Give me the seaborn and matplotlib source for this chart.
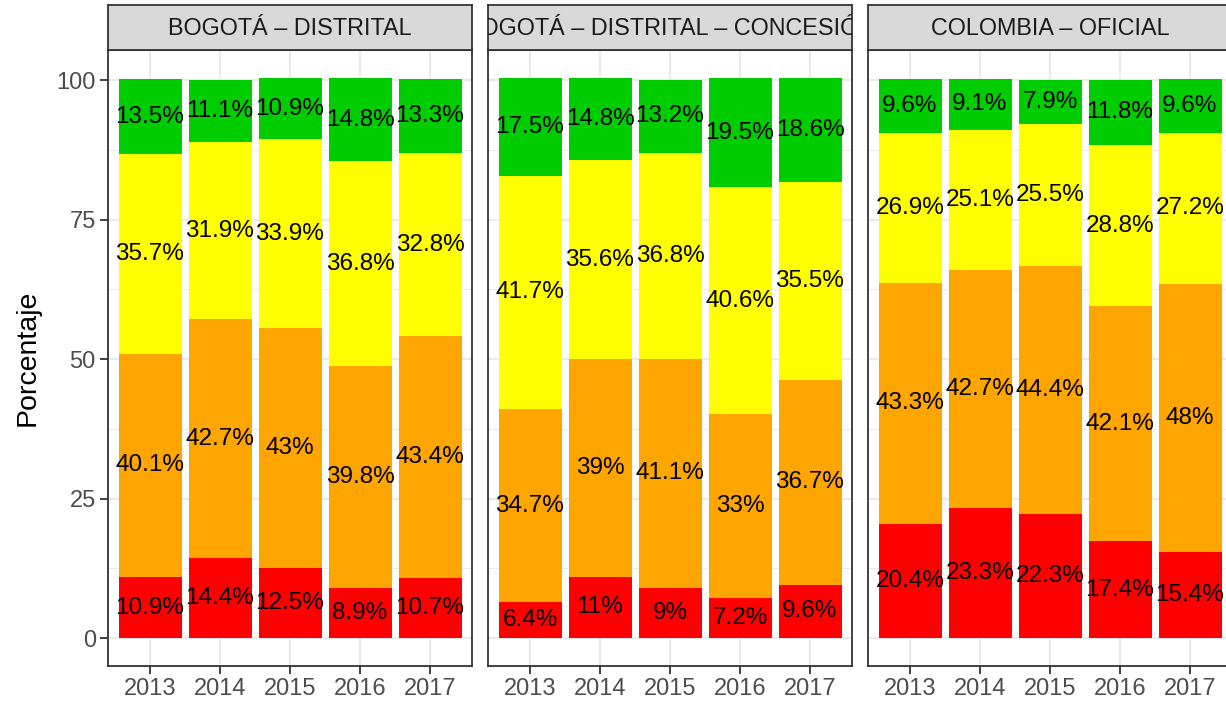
import numpy as np
import pandas as pd
import matplotlib
matplotlib.use("Agg")
import matplotlib.pyplot as plt
import seaborn as sns

# data (percent, from the bottom up)
years = ["2013", "2014", "2015", "2016", "2017"]
panels = ["BOGOTÁ – DISTRITAL", "BOGOTÁ – DISTRITAL – CONCESIÓN", "COLOMBIA – OFICIAL"]
levels = ["rojo", "naranja", "amarillo", "verde"]
colors = ["#FF0000", "#FFA500", "#FFFF00", "#00CD00"]

distrital_rojo = [10.9, 14.4, 12.5, 8.9, 10.7]
distrital_naranja = [40.1, 42.7, 43, 39.8, 43.4]
distrital_amarillo = [35.7, 31.9, 33.9, 36.8, 32.8]
distrital_verde = [13.5, 11.1, 10.9, 14.8, 13.3]

concesion_rojo = [6.4, 11, 9, 7.2, 9.6]
concesion_naranja = [34.7, 39, 41.1, 33, 36.7]
concesion_amarillo = [41.7, 35.6, 36.8, 40.6, 35.5]
concesion_verde = [17.5, 14.8, 13.2, 19.5, 18.6]

oficial_rojo = [20.4, 23.3, 22.3, 17.4, 15.4]
oficial_naranja = [43.3, 42.7, 44.4, 42.1, 48]
oficial_amarillo = [26.9, 25.1, 25.5, 28.8, 27.2]
oficial_verde = [9.6, 9.1, 7.9, 11.8, 9.6]

rows = []
for panel, series in zip(panels, [
        [distrital_rojo, distrital_naranja, distrital_amarillo, distrital_verde],
        [concesion_rojo, concesion_naranja, concesion_amarillo, concesion_verde],
        [oficial_rojo, oficial_naranja, oficial_amarillo, oficial_verde]]):
    for lvl, vals in zip(levels, series):
        for y, v in zip(years, vals):
            rows.append({"panel": panel, "nivel": lvl, "anio": y, "pct": v})
df = pd.DataFrame(rows)
df["nivel"] = pd.Categorical(df["nivel"], levels)
df = df.sort_values(["panel", "anio", "nivel"])
df["top"] = df.groupby(["panel", "anio"])["pct"].cumsum()
df["mid"] = df["top"] - df["pct"] / 2

sns.set_theme(style="white")
plt.rcParams["font.family"] = ["Liberation Sans", "DejaVu Sans"]

W, H = 1226, 706
fig = plt.figure(figsize=(W / 100, H / 100), dpi=100)

lefts = [108, 488, 868]
pw = 364
ptop, pbot = 50, 666
strip_top = 5

grid_c = "#EBEBEB"
border_c = "#333333"

for i, panel in enumerate(panels):
    ax = fig.add_axes([lefts[i] / W, 1 - pbot / H, pw / W, (pbot - ptop) / H])
    sub = df[df["panel"] == panel]
    # draw cumulative bars from the top level down so they stack
    for lvl, col in reversed(list(zip(levels, colors))):
        d = sub[sub["nivel"] == lvl]
        sns.barplot(data=d, x="anio", y="top", order=years, color=col,
                    width=0.9, linewidth=0, saturation=1, ax=ax, zorder=2)
    for _, r in sub.iterrows():
        ax.text(years.index(r["anio"]), r["mid"], f"{r['pct']:g}%",
                ha="center", va="center", fontsize=17.5, color="black", zorder=3)
    ax.set_xlim(-0.6, 4.6)
    ax.set_ylim(-5.0, 105.4)
    ax.set_yticks([0, 25, 50, 75, 100])
    ax.set_yticks([12.5, 37.5, 62.5, 87.5], minor=True)
    ax.grid(True, which="major", color=grid_c, linewidth=1.6, zorder=0)
    ax.grid(True, which="minor", axis="y", color=grid_c, linewidth=0.8, zorder=0)
    ax.set_axisbelow(True)
    ax.set_xlabel("")
    ax.set_ylabel("")
    for s in ax.spines.values():
        s.set_color(border_c)
        s.set_linewidth(1.3)
    ax.tick_params(axis="x", which="major", length=5.8, width=1.3, color=border_c,
                   labelsize=17, labelcolor="#4D4D4D", pad=3, bottom=True)
    ax.tick_params(axis="y", which="minor", length=0)
    if i == 0:
        ax.tick_params(axis="y", which="major", length=5.8, width=1.3, color=border_c,
                       labelsize=17, labelcolor="#4D4D4D", pad=3, left=True)
    else:
        ax.tick_params(axis="y", which="major", length=0, labelleft=False)

    # facet strip
    sx = fig.add_axes([lefts[i] / W, 1 - ptop / H, pw / W, (ptop - strip_top) / H])
    sx.set_facecolor("#D9D9D9")
    sx.set_xticks([])
    sx.set_yticks([])
    for s in sx.spines.values():
        s.set_color(border_c)
        s.set_linewidth(1.3)
    t = sx.text(0.5, 0.47, panel, ha="center", va="center", fontsize=16.8,
                color="#1A1A1A", transform=sx.transAxes)
    t.set_clip_on(True)

fig.text(28 / W, 1 - 358 / H, "Porcentaje", rotation=90, ha="center",
         va="center", fontsize=20.5, color="black")

fig.savefig("out.png", dpi=100)
